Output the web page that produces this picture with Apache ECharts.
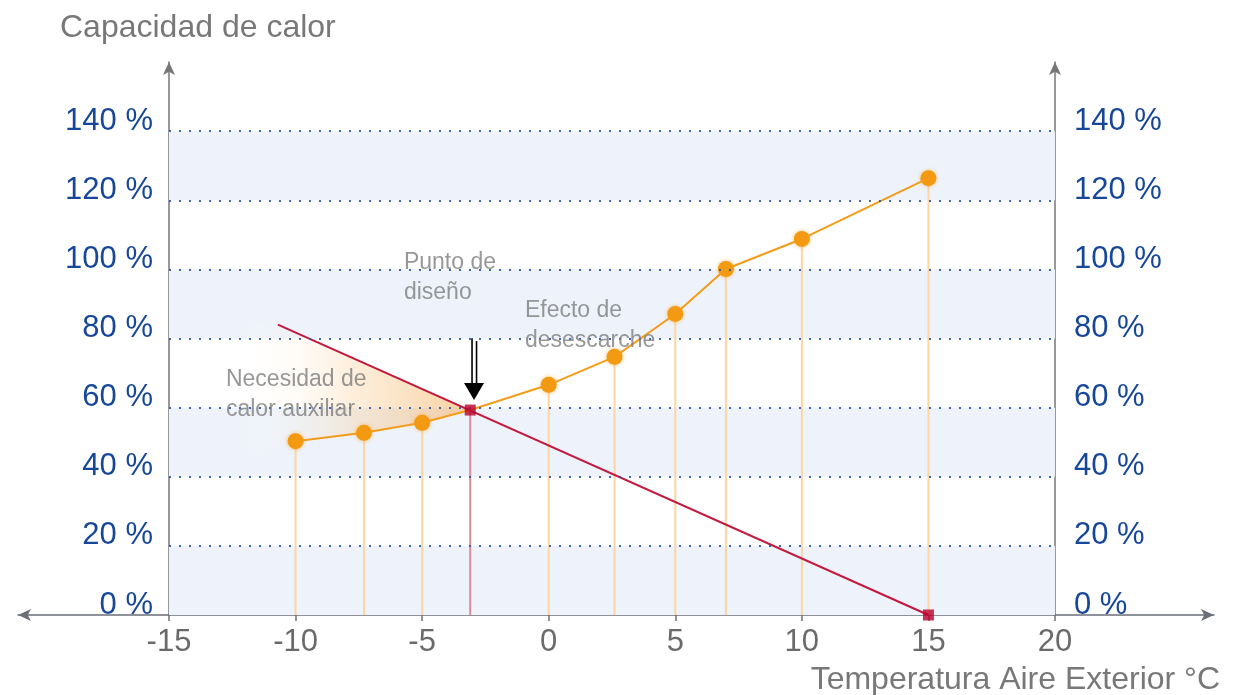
<!DOCTYPE html>
<html>
<head>
<meta charset="utf-8">
<script src="https://cdn.jsdelivr.net/npm/echarts@6/dist/echarts.min.js"></script>
<style>
  html, body { margin: 0; padding: 0; background: #fff; }
  #main { width: 1236px; height: 695px; }
</style>
</head>
<body>
<div id="main"></div>
<script>
// outdoor temperature (°C) and heat pump capacity (%)
const temps = [-10, -7.3, -5, -3.1, 0, 2.6, 5, 7, 10, 15];
const capacity = [50.3, 52.7, 55.6, 59.3, 66.6, 74.7, 87.1, 100.1, 108.8, 126.4];
const designIndex = 3;
// heat demand line
const demandTemps = [-10.7, 15];
const demandValues = [84, 0];
// zone where auxiliary heat is needed (between demand and capacity)
const auxTemps = [-12.2, -10.7, -3.1, -5, -7.3, -10, -12.2];
const auxValues = [85, 84, 59.3, 55.6, 52.7, 50.3, 46];
// axes
const xTicks = [-15, -10, -5, 0, 5, 10, 15, 20];
const yTicks = [0, 20, 40, 60, 80, 100, 120, 140];
const bandStarts = [0, 40, 80, 120];
// notes
const notes = ['Punto de\ndiseño', 'Efecto de\ndesescarche', 'Necesidad de\ncalor auxiliar'];
const noteTemps = [-5.72, -0.94, -12.75];
const noteValues = [106.2, 92.3, 72.3];

const font = "'Liberation Sans', Arial, sans-serif";
const chart = echarts.init(document.getElementById('main'));

const yAxisBase = {
  type: 'value', min: 0, max: 160, interval: 20, gridIndex: 0,
  axisLine: { show: true, onZero: false, symbol: ['none', 'arrow'], symbolSize: [9, 13],
    lineStyle: { color: '#767676', width: 1.5 } },
  axisTick: { show: false },
  splitLine: { show: false },
  axisLabel: {
    fontFamily: font, fontSize: 31, color: '#17479a',
    verticalAlign: 'bottom', lineHeight: 20,
    formatter: v => (v > 140 ? '' : v + ' %')
  }
};

const option = {
  animation: false,
  title: [
    { text: 'Capacidad de calor', left: 60, top: 12, padding: 0,
      textStyle: { fontFamily: font, fontSize: 32, fontWeight: 'normal', color: '#787878' } },
    { text: 'Temperatura Aire Exterior °C', right: 16, top: 664, padding: 0,
      textStyle: { fontFamily: font, fontSize: 32, fontWeight: 'normal', color: '#787878' } }
  ],
  grid: [
    { left: 169, right: 181, top: 62, bottom: 80 },
    { left: 18, right: 22, top: 62, bottom: 80 }
  ],
  xAxis: [
    { type: 'value', gridIndex: 0, min: -15, max: 20, interval: 5,
      axisLine: { show: false, onZero: false },
      axisTick: { show: true, length: 6, lineStyle: { color: '#6b6f78', width: 1.5 } },
      splitLine: { show: false },
      axisLabel: { fontFamily: font, fontSize: 31, color: '#6a6a6a', margin: 12 } },
    { type: 'value', gridIndex: 1, min: 0, max: 1,
      axisLine: { show: true, onZero: false, symbol: ['arrow', 'arrow'], symbolSize: [9, 13],
        lineStyle: { color: '#6b6f78', width: 1.5 } },
      axisTick: { show: false }, axisLabel: { show: false }, splitLine: { show: false } }
  ],
  yAxis: [
    Object.assign({}, yAxisBase, { position: 'left',
      axisLabel: Object.assign({}, yAxisBase.axisLabel, { margin: 16 }) }),
    Object.assign({}, yAxisBase, { position: 'right',
      axisLabel: Object.assign({}, yAxisBase.axisLabel, { margin: 19 }) }),
    { type: 'value', gridIndex: 1, min: 0, max: 160, show: false }
  ],
  series: [
    {
      // background bands and dotted grid lines
      type: 'line', xAxisIndex: 0, yAxisIndex: 0, data: [], z: 0, silent: true,
      markArea: {
        silent: true,
        itemStyle: { color: '#eef3fb' },
        data: bandStarts.map(b => [{ coord: [-15, b] }, { coord: [20, b + 20] }])
      },
      markLine: {
        silent: true, symbol: 'none', label: { show: false },
        lineStyle: { color: '#2d58a8', width: 2, type: [2, 8], opacity: 0.9 },
        data: yTicks.filter(v => v > 0).map(v => ({ yAxis: v }))
      }
    },
    {
      // auxiliary heat zone
      type: 'custom', xAxisIndex: 0, yAxisIndex: 0, z: 1, silent: true,
      data: [[0, 0]],
      renderItem: (params, api) => {
        const pts = auxTemps.map((t, i) => api.coord([t, auxValues[i]]));
        return {
          type: 'polygon',
          shape: { points: pts },
          style: {
            fill: new echarts.graphic.LinearGradient(0, 0, 1, 0, [
              { offset: 0, color: 'rgba(255,255,255,0)' },
              { offset: 0.5, color: 'rgba(249,200,140,0.32)' },
              { offset: 1, color: 'rgba(245,170,85,0.55)' }
            ])
          }
        };
      }
    },
    {
      // drop lines
      type: 'bar', xAxisIndex: 0, yAxisIndex: 0, barWidth: 2, z: 2, silent: true,
      data: temps.map((t, i) => ({
        value: [t, capacity[i]],
        itemStyle: { color: i === designIndex ? '#d98a9b' : '#fbd6a2' }
      }))
    },
    {
      name: 'Demanda', type: 'line', xAxisIndex: 0, yAxisIndex: 0, z: 3,
      symbol: 'none',
      lineStyle: { color: '#c4183c', width: 2 },
      data: demandTemps.map((t, i) => [t, demandValues[i]])
    },
    {
      name: 'Capacidad', type: 'line', xAxisIndex: 0, yAxisIndex: 0, z: 4,
      symbol: 'circle', symbolSize: 16,
      lineStyle: { color: '#f39c1a', width: 2 },
      itemStyle: { color: '#f39a12', shadowBlur: 4, shadowColor: 'rgba(243,154,18,0.6)' },
      data: temps.map((t, i) => (i === designIndex
        ? { value: [t, capacity[i]], symbol: 'none' }
        : [t, capacity[i]]))
    },
    {
      // design point and balance point
      type: 'scatter', xAxisIndex: 0, yAxisIndex: 0, z: 5,
      symbol: 'rect', symbolSize: 11,
      itemStyle: { color: '#b8002c' },
      data: [[temps[designIndex], capacity[designIndex]],
             [demandTemps[1], demandValues[1]]]
    },
    {
      // arrow pointing to design point
      type: 'custom', xAxisIndex: 0, yAxisIndex: 0, z: 6, silent: true,
      data: [[-2.95, 80.1, 62.2]],
      renderItem: (params, api) => {
        const top = api.coord([api.value(0), api.value(1)]);
        const tip = api.coord([api.value(0), api.value(2)]);
        const headTop = tip[1] - 17;
        return {
          type: 'group',
          children: [
            { type: 'line', shape: { x1: top[0] - 2, y1: top[1], x2: top[0] - 2, y2: headTop + 2 },
              style: { stroke: '#000', lineWidth: 1.6 } },
            { type: 'line', shape: { x1: top[0] + 2.5, y1: top[1] + 3, x2: top[0] + 2.5, y2: headTop + 2 },
              style: { stroke: '#000', lineWidth: 1.6 } },
            { type: 'polygon',
              shape: { points: [[tip[0] - 10, headTop], [tip[0] + 10, headTop], [tip[0], tip[1]]] },
              style: { fill: '#000' } }
          ]
        };
      }
    },
    {
      // annotations
      type: 'scatter', xAxisIndex: 0, yAxisIndex: 0, z: 7, silent: true,
      symbolSize: 0,
      data: notes.map((n, i) => ({ value: [noteTemps[i], noteValues[i]], name: n })),
      label: {
        show: true, position: [0, 0], align: 'left', verticalAlign: 'top',
        formatter: p => p.name,
        fontFamily: font, fontSize: 23, lineHeight: 30, color: '#7d7d7d'
      }
    }
  ]
};

chart.setOption(option);
</script>
</body>
</html>
